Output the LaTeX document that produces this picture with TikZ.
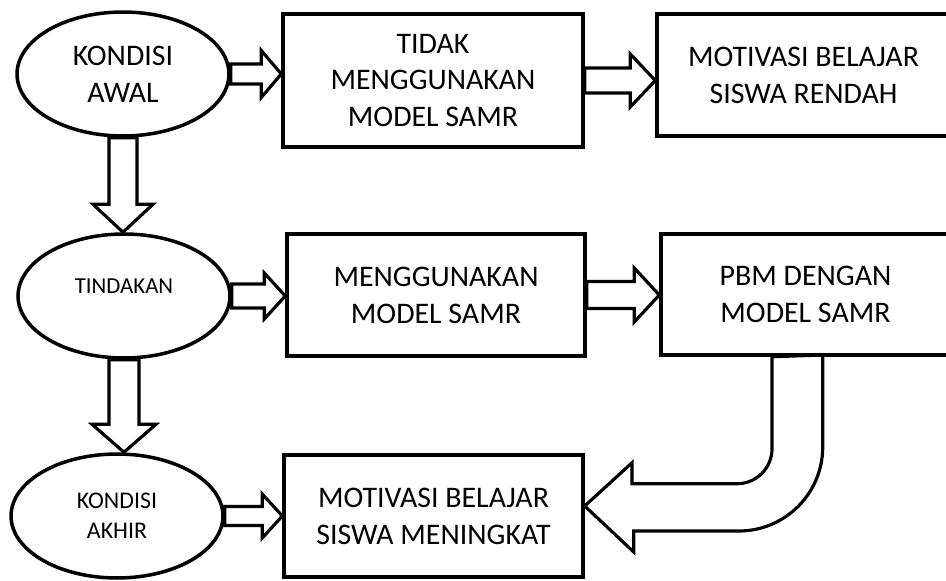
\documentclass[tikz,border=0pt]{standalone}
\usepackage{fontspec}
\setmainfont{Carlito}
\usetikzlibrary{calc,shapes.geometric}
\newcommand{\bigtxt}{\fontsize{17}{21}\selectfont}
\newcommand{\midtxt}{\fontsize{13.6}{17}\selectfont}
\newcommand{\smalltxt}{\fontsize{13}{16}\selectfont}
% hollow block arrow, drawn from start to target
\tikzset{
  shaftw/.store in=\fatshaft, headw/.store in=\fathead, headl/.store in=\fatlen,
  shaftw=0.2cm, headw=0.46cm, headl=0.4cm,
  fatarrow/.style={draw, line width=1.8pt, line join=miter,
    to path={($(\tikztostart)!\fatshaft!90:(\tikztotarget)$)
      -- ($($(\tikztotarget)!\fatlen!(\tikztostart)$)!\fatshaft!-90:(\tikztostart)$)
      -- ($($(\tikztotarget)!\fatlen!(\tikztostart)$)!\fathead!-90:(\tikztostart)$)
      -- (\tikztotarget)
      -- ($($(\tikztotarget)!\fatlen!(\tikztostart)$)!\fathead!90:(\tikztostart)$)
      -- ($($(\tikztotarget)!\fatlen!(\tikztostart)$)!\fatshaft!90:(\tikztostart)$)
      -- ($(\tikztostart)!\fatshaft!-90:(\tikztotarget)$) -- cycle}},
}
\begin{document}
\begin{tikzpicture}[x=0.02cm, y=-0.02cm,
  oval/.style={draw, ellipse, line width=2pt, inner sep=0pt,
    minimum width=4.24cm, minimum height=2.48cm, align=center},
  stepbox/.style={draw, line width=2pt, align=center, font=\bigtxt,
    minimum height=2.44cm}]
\useasboundingbox (0,0) rectangle (946,581);
% Left column
\node[oval, font=\bigtxt] (e1) at (123,74) {KONDISI\\AWAL};
\node[oval, font=\smalltxt] (e2) at (124,296) {\raisebox{4mm}{TINDAKAN}};
\node[oval, font=\midtxt] (e3) at (117,516) {KONDISI\\AKHIR};
% Boxes
\node[stepbox, minimum width=6cm, minimum height=2.66cm] (b1) at (433,80.5)
  {TIDAK\\MENGGUNAKAN\\MODEL SAMR};
\node[stepbox, minimum width=5.86cm] (b2) at (803.5,75)
  {MOTIVASI BELAJAR\\SISWA RENDAH};
\node[stepbox, minimum width=5.96cm] (b4) at (436,295)
  {MENGGUNAKAN\\MODEL SAMR};
\node[stepbox, minimum width=5.78cm, minimum height=2.42cm] (b5) at (805.5,294.5)
  {PBM DENGAN\\MODEL SAMR};
\node[stepbox, minimum width=5.98cm] (b3) at (433.5,516)
  {MOTIVASI BELAJAR\\SISWA MENINGKAT};
% Arrows
\draw[fatarrow, shaftw=0.2cm, headw=0.47cm, headl=0.4cm]
  (e1.east) to (e1.east -| b1.west);
\draw[fatarrow, shaftw=0.25cm, headw=0.53cm, headl=0.5cm]
  (b1.east) to (b1.east -| b2.west);
\draw[fatarrow, shaftw=0.28cm, headw=0.6cm, headl=0.56cm]
  (e1.south) to (e1.south |- e2.north);
\draw[fatarrow, shaftw=0.24cm, headw=0.46cm, headl=0.42cm]
  (e2.east) to (e2.east -| b4.west);
\draw[fatarrow, shaftw=0.27cm, headw=0.54cm, headl=0.5cm]
  (b4.east) to (b4.east -| b5.west);
\draw[fatarrow, shaftw=0.3cm, headw=0.64cm, headl=0.56cm]
  (e2.south) to (e2.south |- e3.north);
\draw[fatarrow, shaftw=0.19cm, headw=0.44cm, headl=0.4cm]
  (e3.east) to (e3.east -| b3.west);
% Bent arrow back to the result
\draw[line width=1.8pt, line join=miter]
  ([xshift=-0.67cm]b5.south) -- ++(0,92) arc[start angle=0, end angle=90, radius=35]
  -- ++(-105,0) -- ++(0,-21) -- ([yshift=0.2cm]b3.east) -- ++(49,46) -- ++(0,-21)
  -- ++(105,0) arc[start angle=90, end angle=0, radius=84] -- ++(0,-92) -- cycle;
\end{tikzpicture}
\end{document}
